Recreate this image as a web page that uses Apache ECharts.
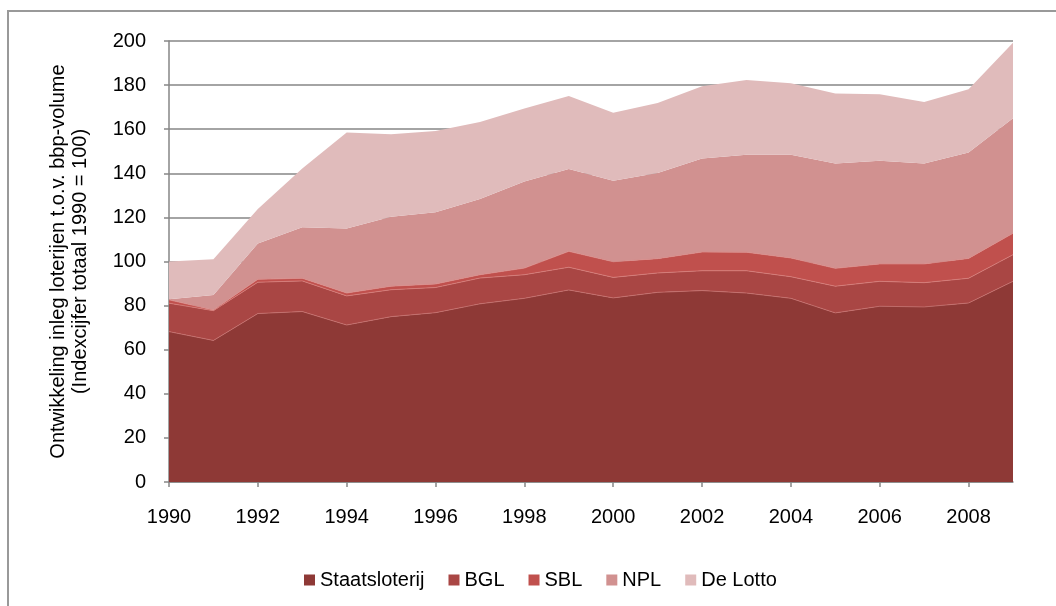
<!DOCTYPE html>
<html><head><meta charset="utf-8">
<script src="https://cdn.jsdelivr.net/npm/echarts@6/dist/echarts.min.js"></script>
<style>html,body{margin:0;padding:0;background:#fff}#c{width:1056px;height:606px}</style>
</head><body><div id="c"></div>
<script>
const years = ['1990','1991','1992','1993','1994','1995','1996','1997','1998','1999','2000','2001','2002','2003','2004','2005','2006','2007','2008','2009'];
const staatsloterij = [68.2,64.2,76.4,77.3,71.2,75.0,76.8,80.8,83.3,87.1,83.5,86.0,86.8,85.7,83.3,76.7,79.7,79.4,81.2,91.0];
const bgl = [12.9,13.5,14.2,13.9,13.2,12.2,11.4,11.7,10.7,10.3,9.3,8.8,9.0,10.1,9.8,12.1,11.3,11.0,11.2,12.1];
const sbl = [1.5,0.3,1.3,1.2,1.3,1.6,1.6,1.5,3.0,7.2,7.1,6.5,8.5,8.4,8.5,8.1,7.9,8.5,9.0,9.7];
const npl = [0.3,6.8,16.3,23.1,29.3,31.5,32.5,34.3,39.3,37.4,36.7,38.8,42.4,44.2,46.8,47.6,46.8,45.6,48.0,52.2];
const deLotto = [17.1,16.2,15.6,26.7,43.5,37.4,36.9,35.0,33.1,33.1,30.9,31.8,32.8,33.9,32.4,31.7,30.1,27.8,28.7,34.2];
const yTicks = {min:0, max:200, interval:20};

const names = ['Staatsloterij','BGL','SBL','NPL','De Lotto'];
const datas = [staatsloterij,bgl,sbl,npl,deLotto];
const colors = ['#8E3936','#A94644','#C0504D','#D19190','#E0BBBB'];
const lineCols = ['#c7706d','#d77d7a','#d98a88','#d19190','#e0bbbb'];
const FONT = 'Liberation Sans, Arial, sans-serif';

const chart = echarts.init(document.getElementById('c'), null, {renderer:'canvas'});
chart.setOption({
  animation:false,
  backgroundColor:'#fff',
  color:colors,
  textStyle:{fontFamily:FONT},
  graphic:[{type:'polyline', shape:{points:[[8,606],[8,11],[1056,11]]}, style:{fill:null, stroke:'#999999', lineWidth:2}, z:-10}],
  grid:{left:169, right:43, top:41, bottom:124, containLabel:false},
  legend:{
    data:names, top:565, left:299, itemWidth:11, itemHeight:11, itemGap:24,
    icon:'rect', textStyle:{fontSize:20, color:'#000', fontFamily:FONT}
  },
  xAxis:{
    type:'category', data:years, boundaryGap:false,
    axisLine:{lineStyle:{color:'#868686', width:1.5}},
    axisTick:{interval:1, length:5, lineStyle:{color:'#868686', width:1.5}},
    axisLabel:{interval:1, fontSize:20, color:'#000', margin:25}
  },
  yAxis:{
    type:'value', min:yTicks.min, max:yTicks.max, interval:yTicks.interval,
    name:'Ontwikkeling inleg loterijen t.o.v. bbp-volume\n(Indexcijfer totaal 1990 = 100)',
    nameLocation:'middle', nameGap:78, nameRotate:90,
    nameTextStyle:{fontSize:20, color:'#000', lineHeight:22, fontFamily:FONT},
    axisLine:{show:true, lineStyle:{color:'#868686', width:1.5}},
    axisTick:{show:true, length:5, lineStyle:{color:'#868686', width:1.5}},
    axisLabel:{fontSize:20, color:'#000', margin:23},
    splitLine:{lineStyle:{color:'#868686', width:1.5}}
  },
  series: names.map((n,i)=>({
    name:n, type:'line', stack:'total', data:datas[i], symbol:'none',
    lineStyle:{width:i<3?0.8:0, color:lineCols[i]},
    areaStyle:{color:colors[i], opacity:1},
    itemStyle:{color:colors[i]}
  }))
});
</script></body></html>
